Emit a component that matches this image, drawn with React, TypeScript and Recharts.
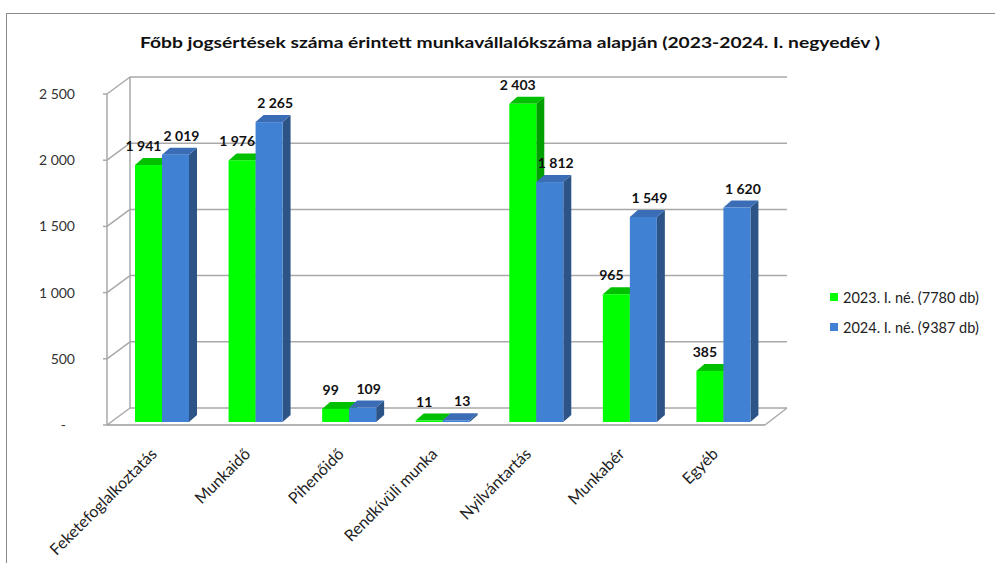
import { Bar, BarChart, CartesianGrid, LabelList, Legend, XAxis, YAxis } from "recharts";

const kategoriak = [
  "Feketefoglalkoztatás",
  "Munkaidő",
  "Pihenőidő",
  "Rendkívüli munka",
  "Nyilvántartás",
  "Munkabér",
  "Egyéb",
];
const ertekek2023 = [1941, 1976, 99, 11, 2403, 965, 385];
const ertekek2024 = [2019, 2265, 109, 13, 1812, 1549, 1620];
const sorozatNevek = ["2023. I. né. (7780 db)", "2024. I. né. (9387 db)"];
const yTicks = [0, 500, 1000, 1500, 2000, 2500];

const cim = "Főbb jogsértések száma érintett munkavállalókszáma alapján (2023-2024. I. negyedév )";

const adatok = kategoriak.map((nev, i) => ({ nev, a: ertekek2023[i], b: ertekek2024[i] }));

const zold = { front: "#00ff00", top: "#00c000", side: "#00a000" };
const kek = { front: "#4181d3", top: "#3a6db5", side: "#2c5487" };

const DX = 8;
const DY = 7;
const FONT = "Lato, 'Open Sans', sans-serif";
const racsSzin = "#a9a9a9";

function formazas(n: number) {
  if (n === 0) return "-";
  return String(n).replace(/\B(?=(\d{3})+(?!\d))/g, " ");
}

// 3D oszlop: elülső lap, tető és oldallap
function oszlop3D(szin: { front: string; top: string; side: string }) {
  return (props: any) => {
    const { x, y, width, height } = props;
    if (width == null || height == null) return null;
    const h = Math.max(height, 0);
    return (
      <g>
        <polygon
          points={`${x + width},${y} ${x + width + DX},${y - DY} ${x + width + DX},${y + h - DY} ${x + width},${y + h}`}
          fill={szin.side}
        />
        <polygon
          points={`${x},${y} ${x + DX},${y - DY} ${x + width + DX},${y - DY} ${x + width},${y}`}
          fill={szin.top}
        />
        <rect x={x} y={y} width={width} height={h} fill={szin.front} />
      </g>
    );
  };
}

// hátfal rácsvonalai, bal oldalfal és padló
function vizszintesRacs(props: any) {
  const { x1, x2, y1, y, height } = props;
  const also = Math.abs(y1 - (y + height)) < 0.5;
  return (
    <g>
      <line x1={x1 + 15} y1={y1 - 14} x2={x2 + 17} y2={y1 - 14} stroke={racsSzin} strokeWidth={1.5} />
      <line x1={x1 - 8} y1={y1 + 3} x2={x1 + 15} y2={y1 - 14} stroke={racsSzin} strokeWidth={1.5} />
      <line x1={x1 - 12} y1={y1 + 3} x2={x1 - 8} y2={y1 + 3} stroke={racsSzin} strokeWidth={1.5} />
      {also && (
        <g>
          <line x1={x1 - 8} y1={y + 3} x2={x1 - 8} y2={y1 + 3} stroke={racsSzin} strokeWidth={1.5} />
          <line x1={x1 + 15} y1={y - 14} x2={x1 + 15} y2={y1 - 14} stroke={racsSzin} strokeWidth={1.5} />
          <line x1={x1 - 8} y1={y1 + 3} x2={x2 - 5} y2={y1 + 3} stroke="#9a9a9a" strokeWidth={1.5} />
          <line x1={x2 - 5} y1={y1 + 3} x2={x2 + 17} y2={y1 - 14} stroke={racsSzin} strokeWidth={1.5} />
        </g>
      )}
    </g>
  );
}

function YTick(props: any) {
  const { x, y, payload } = props;
  const nulla = payload.value === 0;
  return (
    <text
      x={x - (nulla ? 41 : 32)}
      y={y + 3}
      dy="0.35em"
      textAnchor="end"
      fontSize={14}
      fontFamily={FONT}
      fill="#333"
    >
      {formazas(payload.value)}
    </text>
  );
}

function XTick(props: any) {
  const { x, y, payload } = props;
  return (
    <text
      x={0}
      y={0}
      textAnchor="end"
      fontSize={16}
      fontFamily={FONT}
      fill="#222"
      transform={`translate(${x - 4},${y + 25}) rotate(-45)`}
    >
      {payload.value}
    </text>
  );
}

function Cimke(props: any) {
  const { x, y, width, value, eltolas = 0 } = props;
  return (
    <text
      x={x + width / 2 + eltolas}
      y={y - 14}
      textAnchor="middle"
      fontSize={14}
      fontWeight="bold"
      fontFamily={FONT}
      fill="#111"
    >
      {formazas(value)}
    </text>
  );
}

function Jelmagyarazat() {
  const szinek = [zold.front, kek.front];
  return (
    <div style={{ fontFamily: FONT, fontSize: 14.5, color: "#222" }}>
      {sorozatNevek.map((nev, i) => (
        <div key={nev} style={{ display: "flex", alignItems: "center", height: 30 }}>
          <span style={{ width: 8, height: 8, background: szinek[i], marginRight: 5, display: "inline-block" }} />
          {nev}
        </div>
      ))}
    </div>
  );
}

export default function App() {
  return (
    <div style={{ position: "absolute", left: 0, top: 0, width: 995, height: 563, overflow: "hidden", background: "#fff" }}>
      <div
        style={{
          position: "absolute",
          left: 6,
          top: 13,
          width: 1100,
          height: 700,
          borderLeft: "1.5px solid #8a8a8a",
          borderTop: "1.5px solid #8a8a8a",
        }}
      />
      <BarChart
        width={995}
        height={563}
        data={adatok}
        margin={{ top: 91, right: 225, bottom: 41, left: 55 }}
        barGap={0}
        barSize={27}
        style={{ position: "absolute", left: 0, top: 0 }}
      >
        <text x={510} y={48} textAnchor="middle" fontSize={16} fontWeight="bold" fontFamily={FONT} fill="#111" textLength={740} lengthAdjust="spacingAndGlyphs">
          {cim}
        </text>
        <CartesianGrid horizontal={vizszintesRacs} vertical={false} />
        <XAxis dataKey="nev" axisLine={false} tickLine={false} height={100} tick={<XTick />} interval={0} />
        <YAxis domain={[0, 2500]} ticks={yTicks} width={60} axisLine={false} tickLine={false} tick={<YTick />} />
        <Legend
          layout="vertical"
          align="center"
          verticalAlign="middle"
          content={<Jelmagyarazat />}
          wrapperStyle={{ left: 830, top: 282, width: 165 }}
        />
        <Bar dataKey="a" name={sorozatNevek[0]} shape={oszlop3D(zold)} isAnimationActive={false}>
          <LabelList dataKey="a" content={<Cimke eltolas={-5} />} />
        </Bar>
        <Bar dataKey="b" name={sorozatNevek[1]} shape={oszlop3D(kek)} isAnimationActive={false}>
          <LabelList dataKey="b" content={<Cimke eltolas={6} />} />
        </Bar>
      </BarChart>
    </div>
  );
}
